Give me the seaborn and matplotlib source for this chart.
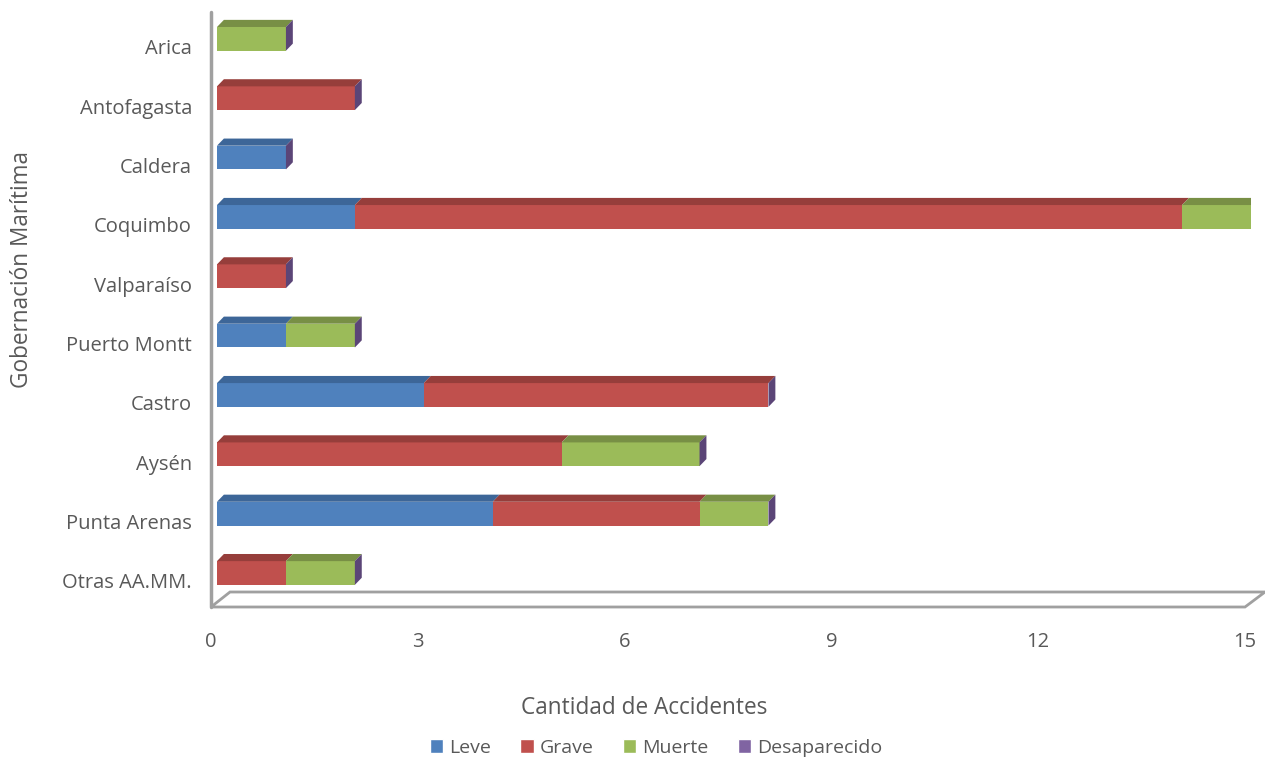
import matplotlib
matplotlib.use("Agg")
from matplotlib import pyplot as plt
from matplotlib.patches import Polygon, Patch
import matplotlib.transforms as mtrans
import numpy as np
import pandas as pd
import seaborn as sns

# data
gobernaciones = ["Arica", "Antofagasta", "Caldera", "Coquimbo", "Valparaíso",
                 "Puerto Montt", "Castro", "Aysén", "Punta Arenas", "Otras AA.MM."]
leve = [0, 0, 1, 2, 0, 1, 3, 0, 4, 0]
grave = [0, 2, 0, 12, 1, 0, 5, 5, 3, 1]
muerte = [1, 0, 0, 1, 0, 1, 0, 2, 1, 1]
desaparecido = [0, 0, 0, 0, 0, 0, 0, 0, 0, 0]
series = ["Leve", "Grave", "Muerte", "Desaparecido"]

colors = {"Leve": "#4F81BD", "Grave": "#C0504D", "Muerte": "#9BBB59", "Desaparecido": "#8064A2"}
tops = {"Leve": "#3D6698", "Grave": "#963E3B", "Muerte": "#788F45", "Desaparecido": "#5B4577"}

df = pd.DataFrame({"Gobernación": gobernaciones, "Leve": leve, "Grave": grave,
                   "Muerte": muerte, "Desaparecido": desaparecido})
cum = df[series].cumsum(axis=1)
for s in series:
    df["c_" + s] = cum[s]

sns.set_theme(style="white")
plt.rcParams["font.family"] = ["Open Sans", "DejaVu Sans"]
txt = "#595959"

fig = plt.figure(figsize=(12.65, 7.62), dpi=100)
ax = fig.add_axes([217 / 1265, 1 - 608 / 762, (1251 - 217) / 1265, 600 / 762])

bh = 0.4
# stacked bars: draw cumulative totals from the back to the front
for s in ["Desaparecido", "Muerte", "Grave", "Leve"]:
    sns.barplot(data=df, x="c_" + s, y="Gobernación", orient="h", color=colors[s],
                width=bh, saturation=1, ax=ax, linewidth=0, edgecolor="none")

# 3D look: top faces and right end caps
dx, dy = 0.1, 0.12
for i, row in df.iterrows():
    start = 0
    ytop = i - bh / 2
    for s in series:
        v = row[s]
        if v > 0:
            ax.add_patch(Polygon([(start, ytop), (start + dx, ytop - dy),
                                  (start + v + dx, ytop - dy), (start + v, ytop)],
                                 closed=True, facecolor=tops[s], edgecolor="none"))
        start += v
    if start > 0:
        ax.add_patch(Polygon([(start, ytop), (start + dx, ytop - dy),
                              (start + dx, ytop - dy + bh), (start, ytop + bh)],
                             closed=True, facecolor=tops["Desaparecido"], edgecolor="none"))

ax.set_xlim(0, 15)
ax.set_ylim(9.59, -0.52)
for sp in ax.spines.values():
    sp.set_visible(False)

ax.set_xticks([0, 3, 6, 9, 12, 15])
ax.tick_params(axis="x", length=0, pad=17, labelsize=14.5, labelcolor=txt)
ax.tick_params(axis="y", length=0, pad=18, labelsize=14.5, labelcolor=txt)
offx = mtrans.ScaledTranslation(-6 / 100, 0, fig.dpi_scale_trans)
for lab in ax.get_xticklabels():
    lab.set_transform(lab.get_transform() + offx)
offy = mtrans.ScaledTranslation(0, -8 / 100, fig.dpi_scale_trans)
for lab in ax.get_yticklabels():
    lab.set_transform(lab.get_transform() + offy)

ax.set_xlabel("")
ax.set_ylabel("")
fig.text(644 / 1265, 1 - 708 / 762, "Cantidad de Accidentes", fontsize=16.3, color=txt,
         ha="center", va="center")
fig.text(22 / 1265, 1 - 270 / 762, "Gobernación Marítima", fontsize=16.3, color=txt,
         ha="center", va="center", rotation=90)

# wall and floor outline
gray = "#A0A0A0"
fig.add_artist(plt.Line2D([211 / 1265, 211 / 1265], [1 - 12 / 762, 1 - 607 / 762], color=gray, lw=2.5))
floor = Polygon([(211 / 1265, 1 - 607 / 762), (1245 / 1265, 1 - 607 / 762),
                 (1265 / 1265, 1 - 592 / 762), (230 / 1265, 1 - 592 / 762)],
                closed=True, transform=fig.transFigure, facecolor="none", edgecolor=gray, lw=2)
fig.add_artist(floor)

handles = [Patch(facecolor=colors[s], label=s) for s in series]
fig.legend(handles=handles, loc="center", bbox_to_anchor=(656 / 1265, 1 - 748 / 762), ncol=4,
           frameon=False, fontsize=14, labelcolor=txt, handlelength=0.7, handleheight=0.7,
           handletextpad=0.3, columnspacing=1.5)

fig.savefig("out.png", dpi=100)
